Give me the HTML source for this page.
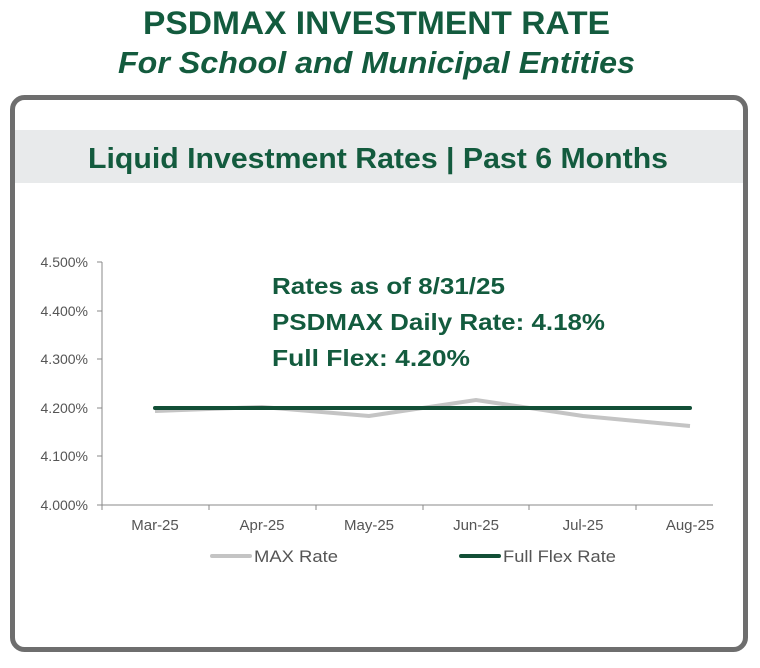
<!DOCTYPE html>
<html><head><style>
body{margin:0;width:760px;height:663px;background:#fff;overflow:hidden;font-family:"Liberation Sans",sans-serif}
</style></head><body>
<svg width="760" height="663" xmlns="http://www.w3.org/2000/svg">
<text x="143" y="34" textLength="467" lengthAdjust="spacingAndGlyphs" font-family="Liberation Sans" font-weight="bold" font-size="32" fill="#135b3e">PSDMAX INVESTMENT RATE</text>
<text x="118" y="73" textLength="517" lengthAdjust="spacingAndGlyphs" font-family="Liberation Sans" font-weight="bold" font-style="italic" font-size="31" fill="#135b3e">For School and Municipal Entities</text>
<rect x="12.5" y="97.5" width="733" height="552" rx="12" fill="#fff" stroke="#6e6e6e" stroke-width="5"/>
<rect x="15" y="130" width="728" height="53" fill="#e8eaeb"/>
<text x="88" y="168" textLength="580" lengthAdjust="spacingAndGlyphs" font-family="Liberation Sans" font-weight="bold" font-size="29" fill="#135b3e">Liquid Investment Rates | Past 6 Months</text>
<g font-family="Liberation Sans" font-size="14" fill="#555" text-anchor="end">
<text x="88" y="267">4.500%</text><text x="88" y="316">4.400%</text><text x="88" y="364">4.300%</text>
<text x="88" y="413">4.200%</text><text x="88" y="461">4.100%</text><text x="88" y="510">4.000%</text>
</g>
<g stroke="#888" stroke-width="1">
<line x1="102" y1="262" x2="102" y2="505"/><line x1="97" y1="262" x2="102" y2="262"/>
<line x1="97" y1="311" x2="102" y2="311"/><line x1="97" y1="359" x2="102" y2="359"/>
<line x1="97" y1="408" x2="102" y2="408"/><line x1="97" y1="456" x2="102" y2="456"/>
<line x1="97" y1="505" x2="713" y2="505"/>
<line x1="102" y1="505" x2="102" y2="510"/><line x1="209" y1="505" x2="209" y2="510"/>
<line x1="316" y1="505" x2="316" y2="510"/><line x1="423" y1="505" x2="423" y2="510"/>
<line x1="529" y1="505" x2="529" y2="510"/><line x1="636" y1="505" x2="636" y2="510"/>
</g>
<polyline fill="none" stroke="#c4c4c4" stroke-width="4" points="155,411 262,407 369,416 476,400 583,416 690,426"/>
<line x1="155" y1="408" x2="690" y2="408" stroke="#124f36" stroke-width="4" stroke-linecap="round"/>
<g font-family="Liberation Sans" font-size="15" fill="#555" text-anchor="middle">
<text x="155" y="530">Mar-25</text><text x="262" y="530">Apr-25</text><text x="369" y="530">May-25</text>
<text x="476" y="530">Jun-25</text><text x="583" y="530">Jul-25</text><text x="690" y="530">Aug-25</text>
</g>
<line x1="212" y1="556" x2="250" y2="556" stroke="#c4c4c4" stroke-width="4" stroke-linecap="round"/>
<text x="254" y="562" textLength="84" lengthAdjust="spacingAndGlyphs" font-family="Liberation Sans" font-size="17" fill="#555">MAX Rate</text>
<line x1="461" y1="556" x2="499" y2="556" stroke="#124f36" stroke-width="4" stroke-linecap="round"/>
<text x="503" y="562" textLength="113" lengthAdjust="spacingAndGlyphs" font-family="Liberation Sans" font-size="17" fill="#555">Full Flex Rate</text>
<g font-family="Liberation Sans" font-weight="bold" font-size="23" fill="#135b3e">
<text x="272" y="294" textLength="233" lengthAdjust="spacingAndGlyphs">Rates as of 8/31/25</text>
<text x="272" y="330" textLength="333" lengthAdjust="spacingAndGlyphs">PSDMAX Daily Rate: 4.18%</text>
<text x="272" y="366" textLength="198" lengthAdjust="spacingAndGlyphs">Full Flex: 4.20%</text>
</g>
</svg>
</body></html>
